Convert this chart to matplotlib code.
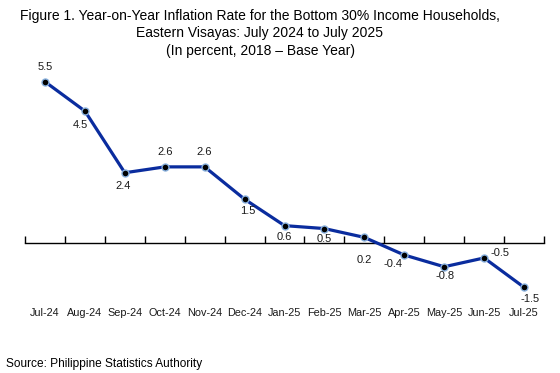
import matplotlib
matplotlib.use("Agg")
import matplotlib.pyplot as plt
import matplotlib.transforms as mtransforms

plt.rcParams['font.family'] = ['Liberation Sans', 'DejaVu Sans']

months = ["Jul-24", "Aug-24", "Sep-24", "Oct-24", "Nov-24", "Dec-24", "Jan-25",
          "Feb-25", "Mar-25", "Apr-25", "May-25", "Jun-25", "Jul-25"]
values = [5.5, 4.5, 2.4, 2.6, 2.6, 1.5, 0.6, 0.5, 0.2, -0.4, -0.8, -0.5, -1.5]
# label offsets in pixels (dx, dy)
label_offsets = [(0, 15), (-5, -14), (-2, -13), (0, 15), (0, 15), (3, -12), (0, -11),
                 (0, -10), (0, -23), (-11, -9), (1, -9), (16, 5), (6, -12)]

fig = plt.figure(figsize=(5.6, 3.73), dpi=100)
ax = fig.add_axes([25/560, 1 - 302/373, 519/560, 235/373])
ax.set_xlim(-0.5, len(months) - 0.5)
ax.set_ylim(-2, 6)

x = list(range(len(months)))
ax.plot(x, values, color='#0A2C9E', lw=2.3, marker='o', ms=5,
        mfc='black', mec='#86AEDC', mew=1.0, zorder=3)

for xi, v, (dx, dy) in zip(x, values, label_offsets):
    ax.annotate(f"{v:.1f}", (xi, v), xytext=(dx, dy), textcoords='offset pixels',
                ha='center', va='center', fontsize=8, color='#1a1a1a')

for s in ['top', 'right', 'left']:
    ax.spines[s].set_visible(False)
ax.spines['bottom'].set_position(('data', 0))
ax.spines['bottom'].set_linewidth(1.0)
ax.set_yticks([])
ax.set_xticks([i - 0.5 for i in range(len(months) + 1)])
ax.set_xticklabels([])
ax.tick_params(axis='x', direction='in', length=5, width=1.0)

trans = mtransforms.blended_transform_factory(ax.transData, fig.transFigure)
for xi, m in zip(x, months):
    ax.text(xi, 1 - 313/373, m, transform=trans, ha='center', va='center',
            fontsize=7.8, color='#1a1a1a')

tx = 260/560
fig.text(tx, 1 - 16/373, "Figure 1. Year-on-Year Inflation Rate for the Bottom 30% Income Households,",
         ha='center', va='center', fontsize=10)
fig.text(tx, 1 - 33/373, "Eastern Visayas: July 2024 to July 2025",
         ha='center', va='center', fontsize=10)
fig.text(tx, 1 - 51/373, "(In percent, 2018 \u2013 Base Year)",
         ha='center', va='center', fontsize=10)
fig.text(6/560, 1 - 364/373, "Source: Philippine Statistics Authority",
         ha='left', va='center', fontsize=8.6)

fig.savefig("out.png", dpi=100)
